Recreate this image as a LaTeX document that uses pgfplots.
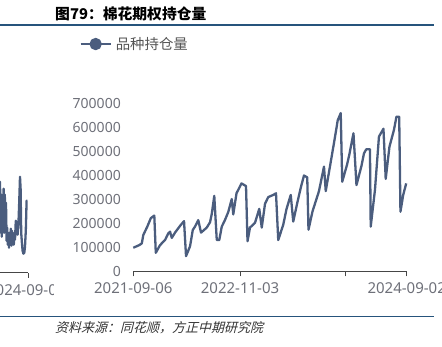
\documentclass[border=0pt]{standalone}
\usepackage{pgfplots}
\pgfplotsset{compat=1.18}
\usepackage{pgfplotstable}
\usepackage{fontspec}
\setmainfont{Noto Sans CJK SC}
\newfontfamily\srcfont[FakeSlant=0.25]{Noto Sans CJK SC}
\newfontfamily\tickfont{Noto Sans}
\definecolor{linecol}{RGB}{75,93,126}
\definecolor{ticklab}{RGB}{110,112,121}
\definecolor{axcol}{RGB}{70,70,70}
\definecolor{rulecol}{RGB}{38,84,124}
\definecolor{legtext}{RGB}{85,85,85}

% days since 2021-09-06, open interest
\pgfplotstableread{
d v
0 99000
24 110000
34 117000
40 152000
56 187000
70 222000
84 233000
90 78000
107 110000
127 131000
140 159000
147 166000
154 140000
167 162000
187 190000
203 210000
211 64000
227 105000
238 173000
247 187000
260 214000
271 162000
294 183000
307 205000
314 240000
324 315000
334 131000
344 131000
354 187000
367 215000
380 248000
394 302000
400 238000
413 326000
433 367000
451 356000
457 126000
467 183000
487 203000
504 261000
514 183000
527 282000
540 310000
560 319000
571 326000
580 131000
600 195000
613 260000
630 319000
640 208000
657 290000
671 353000
683 400000
696 392000
701 174000
717 250000
743 335000
763 437000
770 335000
789 450000
807 560000
818 630000
830 660000
836 374000
855 444000
864 485000
881 576000
893 360000
913 440000
923 492000
932 509000
947 509000
950 187000
967 340000
983 562000
1001 595000
1010 386000
1025 520000
1043 590000
1053 645000
1064 645000
1069 249000
1080 319000
1092 367000
}\mainData

% tail of the neighbouring chart (cropped at the left edge)
\pgfplotstableread{
x y
-20 70
-15 45
-10 80
-6 55
-3 90
-1 50
0 91
0.7 40
1.3 78
1.8 36
2.4 68
3 44
3.6 84
4.2 40
4.8 78
5.4 45
6 70
6.6 32
7.2 45
7.8 28
8.4 38
9 25
9.6 40
10.2 29
10.8 44
11.4 27
12 42
12.6 30
13.2 38
13.8 28
14.4 40
15 33
15.8 52
16.6 45
17.6 38
18.4 48
19.2 70
20 96
20.6 84
21.2 40
21.9 30
22.6 22
23.4 19
24.3 20
25 26
25.8 42
26.6 72
27.3 72
}\leftData

\begin{document}
\begin{tikzpicture}[x=1pt,y=1pt]
\path[use as bounding box] (0,0) rectangle (442,347);
\clip (0,0) rectangle (442,347);

\draw[rulecol, line width=1.2pt] (0,322) -- (434,322);
\draw[rulecol, line width=1.2pt] (0,30.3) -- (434,30.3);
\node[anchor=west, font=\fontsize{14.8}{16}\selectfont\bfseries, inner sep=0] at (55,333) {图79：棉花期权持仓量};
\node[anchor=west, font=\fontsize{13}{15}\srcfont\selectfont, text=black!80, inner sep=0] at (55,19.7) {资料来源：同花顺，方正中期研究院};

\begin{scope}
\clip (0,0) rectangle (53,347);
\begin{axis}[at={(-171.7pt,74.3pt)}, anchor=south west, scale only axis,
  width=200pt, height=168pt, xmin=-171.7, xmax=28.3, ymin=0, ymax=168,
  axis x line*=bottom, hide y axis,
  x axis line style={axcol, line width=1pt, -},
  xtick={28.3}, xticklabels={2024-09-02},
  xtick align=outside, major tick length=5pt,
  x tick style={axcol, line width=1pt},
  tick label style={font=\fontsize{15}{16}\tickfont\selectfont, text=ticklab},
  xticklabel style={yshift=-3pt, xshift=-2pt},
  clip=false]
\addplot[linecol, line width=2.3pt, line join=round] table[x=x,y=y]{\leftData};
\end{axis}
\end{scope}

\begin{axis}[at={(133.3pt,75.5pt)}, anchor=south west, scale only axis,
  width=273.4pt, height=168pt,
  xmin=0, xmax=1094, ymin=0, ymax=700000,
  scaled y ticks=false,
  axis x line*=bottom, axis y line*=left,
  y axis line style={draw=none},
  x axis line style={axcol, line width=1pt, -},
  xtick={0,427,850,1094},
  xticklabels={2021-09-06,2022-11-03,,2024-09-02},
  ytick={0,100000,200000,300000,400000,500000,600000,700000},
  yticklabels={0,100000,200000,300000,400000,500000,600000,700000},
  xtick align=outside, major tick length=5pt,
  x tick style={axcol, line width=1pt},
  y tick style={draw=none},
  tick label style={font=\fontsize{14}{16}\tickfont\selectfont, text=ticklab},
  xticklabel style={yshift=-3pt, font=\fontsize{15}{16}\tickfont\selectfont},
  yticklabel style={xshift=-9pt},
  legend style={at={(-0.1975,1.354)}, anchor=west, draw=none, fill=none,
    inner sep=0pt, font=\fontsize{14.4}{16}\selectfont, text=legtext},
  legend cell align=left,
  clip=false]
\addplot[linecol, line width=2.3pt, line join=round,
  legend image code/.code={\draw[linecol,line width=2.3pt] (0pt,0pt) -- (30pt,0pt);
    \fill[linecol] (15pt,0pt) circle (5pt);}]
  table[x=d,y=v]{\mainData};
\addlegendentry{\hspace{2pt}品种持仓量}
\end{axis}
\end{tikzpicture}
\end{document}
